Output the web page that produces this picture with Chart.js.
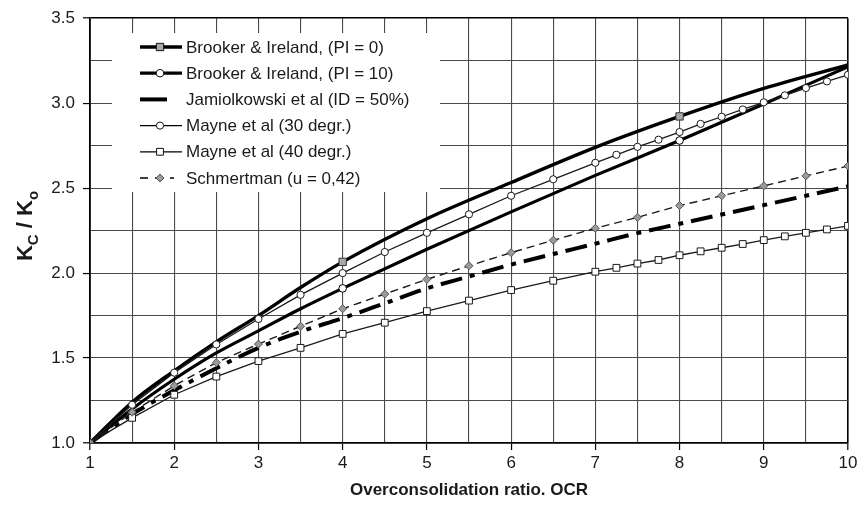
<!DOCTYPE html>
<html>
<head>
<meta charset="utf-8">
<script src="https://cdn.jsdelivr.net/npm/chart.js@4.4.1/dist/chart.umd.min.js"></script>
<style>
  html, body { margin: 0; padding: 0; background: #fff; }
  #wrap { width: 861px; height: 505px; position: relative; }
</style>
</head>
<body>
<div id="wrap"><canvas id="c"></canvas></div>
<script>
// Overconsolidation ratio (OCR) sample points for each curve
const ocrBrooker = [1, 1.5, 2, 2.5, 3, 3.5, 4, 5, 6, 7, 8, 9, 10];
const ocrHalfSteps = [1, 1.5, 2, 2.5, 3, 3.5, 4, 4.5, 5, 5.5, 6, 6.5, 7, 7.5, 8, 8.5, 9, 9.5, 10];
const ocrMayne = [1, 1.5, 2, 2.5, 3, 3.5, 4, 4.5, 5, 5.5, 6, 6.5, 7, 7.25, 7.5, 7.75, 8, 8.25, 8.5, 8.75, 9, 9.25, 9.5, 9.75, 10];

// Kc / K0 values
const brookerPI0  = [1.0, 1.24, 1.425, 1.595, 1.75, 1.915, 2.066, 2.32, 2.533, 2.74, 2.922, 3.087, 3.225];
const brookerPI10 = [1.0, 1.20, 1.375, 1.53, 1.66, 1.79, 1.91, 2.14, 2.36, 2.575, 2.78, 2.995, 3.215];
const brookerMarkedOcr = [1, 4, 8];
const jamiolkowski = [1.0, 1.17, 1.31, 1.44, 1.56, 1.655, 1.735, 1.822, 1.91, 1.98, 2.05, 2.112, 2.173, 2.235, 2.29, 2.345, 2.40, 2.455, 2.51];
const mayne30 = [1.0, 1.225, 1.414, 1.58, 1.73, 1.872, 2.0, 2.124, 2.237, 2.346, 2.455, 2.552, 2.649, 2.696, 2.743, 2.785, 2.83, 2.878, 2.92, 2.963, 3.005, 3.046, 3.089, 3.128, 3.167];
const mayne40 = [1.0, 1.148, 1.284, 1.391, 1.482, 1.56, 1.642, 1.708, 1.776, 1.838, 1.9, 1.955, 2.008, 2.031, 2.056, 2.077, 2.105, 2.128, 2.149, 2.171, 2.194, 2.216, 2.237, 2.257, 2.278];
const schmertmann = [1.0, 1.181, 1.337, 1.473, 1.582, 1.687, 1.79, 1.877, 1.963, 2.043, 2.12, 2.193, 2.264, 2.328, 2.397, 2.455, 2.513, 2.572, 2.63];

const seriesNames = [
  'Brooker & Ireland, (PI = 0)',
  'Brooker & Ireland, (PI = 10)',
  'Jamiolkowski et al (ID = 50%)',
  'Mayne et al (30 degr.)',
  'Mayne et al (40 degr.)',
  'Schmertman (u = 0,42)'
];
const xTitle = 'Overconsolidation ratio. OCR';

const FONT = '"Liberation Sans", Arial, sans-serif';
const INK = '#1a1a1a';

const pts = (xs, ys) => xs.map((x, i) => ({ x, y: ys[i] }));
const brookerRadius = (r) => ocrBrooker.map(x => brookerMarkedOcr.includes(x) ? r : 0);

const datasets = [
  { label: seriesNames[5], data: pts(ocrHalfSteps, schmertmann), borderColor: INK, borderWidth: 1.4,
    borderDash: [8, 5], pointStyle: 'rectRot', pointRadius: 4, pointBackgroundColor: '#9a9a9a',
    pointBorderColor: '#555', pointBorderWidth: 1, tension: 0 },
  { label: seriesNames[4], data: pts(ocrMayne, mayne40), borderColor: INK, borderWidth: 1.3,
    pointStyle: 'rect', pointRadius: 4.8, pointBackgroundColor: '#fff', pointBorderColor: INK,
    pointBorderWidth: 1, tension: 0 },
  { label: seriesNames[3], data: pts(ocrMayne, mayne30), borderColor: INK, borderWidth: 1.3,
    pointStyle: 'circle', pointRadius: 3.6, pointBackgroundColor: '#fff', pointBorderColor: INK,
    pointBorderWidth: 1, tension: 0 },
  { label: seriesNames[2], data: pts(ocrHalfSteps, jamiolkowski), borderColor: '#000', borderWidth: 4,
    borderDash: [22, 8, 5, 8], pointRadius: 0, tension: 0.3, cubicInterpolationMode: 'monotone' },
  { label: seriesNames[1], data: pts(ocrBrooker, brookerPI10), borderColor: '#000', borderWidth: 3.2,
    pointStyle: 'circle', pointRadius: brookerRadius(3.8), pointBackgroundColor: '#fff',
    pointBorderColor: '#000', pointBorderWidth: 1, cubicInterpolationMode: 'monotone' },
  { label: seriesNames[0], data: pts(ocrBrooker, brookerPI0), borderColor: '#000', borderWidth: 3.4,
    pointStyle: 'rect', pointRadius: brookerRadius(5.2), pointBackgroundColor: '#a8a8a8',
    pointBorderColor: '#333', pointBorderWidth: 1, cubicInterpolationMode: 'monotone' }
];

// Marker painter for the legend samples
function marker(ctx, style, x, y, r, fill, stroke) {
  ctx.save();
  ctx.fillStyle = fill; ctx.strokeStyle = stroke; ctx.lineWidth = 1; ctx.setLineDash([]);
  ctx.beginPath();
  if (style === 'circle') {
    ctx.arc(x, y, r, 0, Math.PI * 2);
  } else if (style === 'rect') {
    const s = r * Math.SQRT1_2;
    ctx.rect(x - s, y - s, 2 * s, 2 * s);
  } else if (style === 'rectRot') {
    ctx.moveTo(x - r, y); ctx.lineTo(x, y - r); ctx.lineTo(x + r, y); ctx.lineTo(x, y + r); ctx.closePath();
  }
  ctx.fill(); ctx.stroke();
  ctx.restore();
}

const legendBox = {
  id: 'legendBox',
  afterDatasetsDraw(chart) {
    const ctx = chart.ctx;
    ctx.save();
    ctx.fillStyle = '#fff';
    ctx.fillRect(112, 33, 328, 159);
    const rows = [
      { name: seriesNames[0], w: 3.4, dash: [], m: 'rect', r: 5.2, fill: '#a8a8a8', x1: 140, x2: 182 },
      { name: seriesNames[1], w: 3.2, dash: [], m: 'circle', r: 3.8, fill: '#fff', x1: 140, x2: 182 },
      { name: seriesNames[2], w: 4, dash: [], m: null, x1: 140, x2: 167 },
      { name: seriesNames[3], w: 1.3, dash: [], m: 'circle', r: 3.6, fill: '#fff', x1: 140, x2: 182 },
      { name: seriesNames[4], w: 1.3, dash: [], m: 'rect', r: 4.8, fill: '#fff', x1: 140, x2: 182 },
      { name: seriesNames[5], w: 1.4, dash: [8, 7], m: 'rectRot', r: 4, fill: '#9a9a9a', x1: 140, x2: 174 }
    ];
    ctx.font = '17px ' + FONT;
    ctx.textBaseline = 'middle';
    rows.forEach((row, i) => {
      const y = 47 + i * 26.2;
      ctx.strokeStyle = '#000';
      ctx.lineWidth = row.w;
      ctx.setLineDash(row.dash);
      ctx.beginPath(); ctx.moveTo(row.x1, y); ctx.lineTo(row.x2, y); ctx.stroke();
      ctx.setLineDash([]);
      if (row.m) marker(ctx, row.m, 160, y, row.r, row.fill, i === 5 ? '#555' : '#111');
      ctx.fillStyle = INK;
      ctx.fillText(row.name, 186, y + 1);
    });
    ctx.restore();
  }
};

const axisTitles = {
  id: 'axisTitles',
  afterDraw(chart) {
    const ctx = chart.ctx;
    const area = chart.chartArea;
    ctx.save();
    ctx.fillStyle = INK;
    // horizontal axis title
    ctx.font = 'bold 17px ' + FONT;
    ctx.textAlign = 'center';
    ctx.textBaseline = 'middle';
    ctx.fillText(xTitle, (area.left + area.right) / 2, 490);
    // vertical axis title: Kc / Ko with subscripts
    const big = 'bold 22px ' + FONT, small = 'bold 15px ' + FONT;
    const parts = [['K', big, 0], ['C', small, 6], [' / ', big, 0], ['K', big, 0], ['o', small, 6]];
    let total = 0;
    parts.forEach(p => { ctx.font = p[1]; total += ctx.measureText(p[0]).width; });
    ctx.translate(24, 226);
    ctx.rotate(-Math.PI / 2);
    ctx.textAlign = 'left';
    ctx.textBaseline = 'alphabetic';
    let x = -total / 2;
    parts.forEach(p => {
      ctx.font = p[1];
      ctx.fillText(p[0], x, 8 + p[2]);
      x += ctx.measureText(p[0]).width;
    });
    ctx.restore();
  }
};

const isEdge = (v, lo, hi) => Math.abs(v - lo) < 1e-6 || Math.abs(v - hi) < 1e-6;

new Chart(document.getElementById('c'), {
  type: 'line',
  data: { datasets },
  plugins: [legendBox, axisTitles],
  options: {
    responsive: true,
    maintainAspectRatio: false,
    animation: false,
    layout: { padding: { top: 14, right: 13, left: 0, bottom: 0 } },
    plugins: { legend: { display: false }, tooltip: { enabled: false } },
    scales: {
      x: {
        type: 'linear', min: 1, max: 10,
        afterFit: (s) => { s.height = 62; },
        ticks: {
          stepSize: 0.5, autoSkip: false, maxRotation: 0, padding: 3,
          color: INK, font: { family: FONT, size: 17 },
          callback: (v) => Number.isInteger(v) ? String(v) : ''
        },
        grid: {
          color: (c) => isEdge(c.tick.value, 1, 10) ? '#000' : '#4a4a4a',
          lineWidth: (c) => isEdge(c.tick.value, 1, 10) ? 1.6 : 1.1,
          tickLength: 7,
          tickColor: (c) => Number.isInteger(c.tick.value) ? '#000' : 'rgba(0,0,0,0)',
          tickWidth: 1.2
        },
        border: { display: true, color: '#000', width: 1.6 }
      },
      y: {
        type: 'linear', min: 1, max: 3.5,
        afterFit: (s) => { s.width = 90; },
        ticks: {
          stepSize: 0.25, autoSkip: false, padding: 8,
          color: INK, font: { family: FONT, size: 17 },
          callback: (v) => Math.abs(v * 2 - Math.round(v * 2)) < 1e-6 ? v.toFixed(1) : ''
        },
        grid: {
          color: (c) => isEdge(c.tick.value, 1, 3.5) ? '#000' : '#4a4a4a',
          lineWidth: (c) => isEdge(c.tick.value, 1, 3.5) ? 1.6 : 1.1,
          tickLength: 7,
          tickColor: (c) => Math.abs(c.tick.value * 2 - Math.round(c.tick.value * 2)) < 1e-6 ? '#000' : 'rgba(0,0,0,0)',
          tickWidth: 1.2
        },
        border: { display: true, color: '#000', width: 1.6 }
      }
    }
  }
});
</script>
</body>
</html>
